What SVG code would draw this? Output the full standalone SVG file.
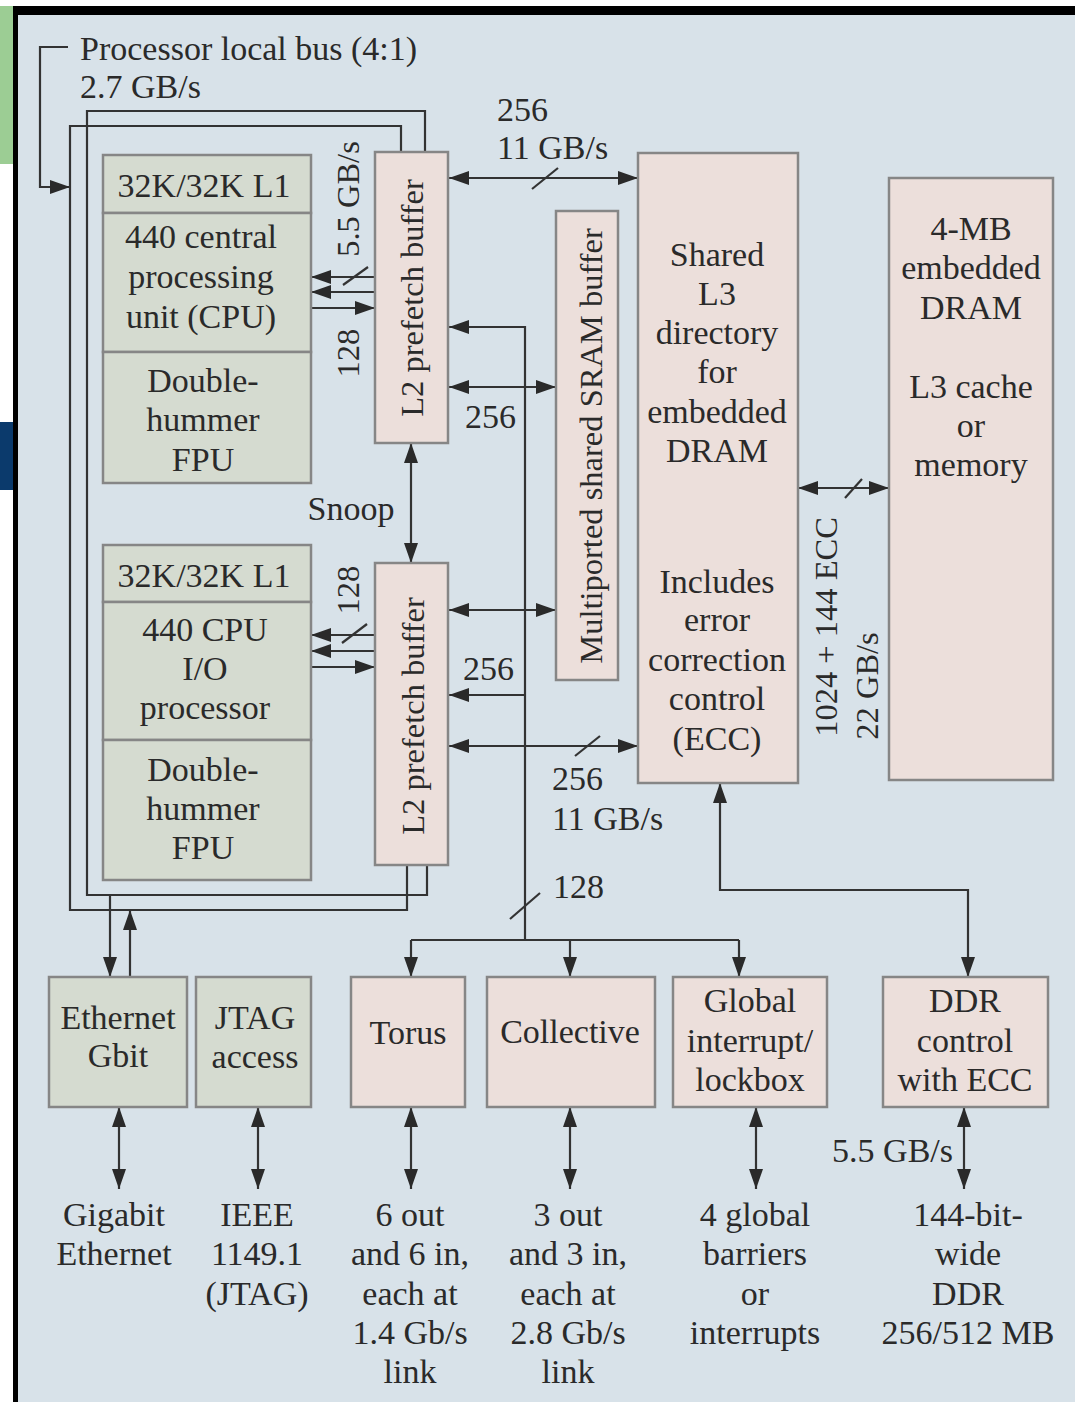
<svg xmlns="http://www.w3.org/2000/svg" width="1075" height="1402" viewBox="0 0 1075 1402">
  <defs>
    <style>
      .pk { fill: #ecdfdb; stroke: #868686; stroke-width: 2.5; }
      .gn { fill: #d5dbd0; stroke: #868686; stroke-width: 2.5; }
      .ln { fill: none; stroke: #333; stroke-width: 2.2; }
      .ar { marker-end: url(#ah); }
      .ar2 { marker-start: url(#ah); marker-end: url(#ah); }
      text { font-family: "Liberation Serif", "Times New Roman", serif; font-size: 34px; fill: #2a2a2a; text-anchor: middle; }
      .vt { font-size: 32.5px; }
      .st { text-anchor: start; }
      .en { text-anchor: end; }
    </style>
    <marker id="ah" viewBox="0 0 20 14" markerUnits="userSpaceOnUse" markerWidth="20" markerHeight="14" refX="20" refY="7" orient="auto-start-reverse">
      <path d="M0,0 L20,7 L0,14 z" fill="#2a2a2a"/>
    </marker>
  </defs>

  <!-- page frame -->
  <rect x="0" y="0" width="1075" height="1402" fill="#ffffff"/>
  <rect x="0" y="6" width="13" height="158" fill="#9ccd94"/>
  <rect x="0" y="422" width="13" height="68" fill="#0b3a6c"/>
  <rect x="18" y="15" width="1057" height="1387" fill="#d8e2e9"/>
  <rect x="13" y="6" width="1062" height="9" fill="#000"/>
  <rect x="13" y="6" width="5" height="1396" fill="#000"/>

  <!-- connectors -->
  <g id="connectors">
    <!-- processor local bus -->
    <path class="ln ar" d="M68,47 H40 V187 H70"/>
    <path class="ln" d="M401,152 V126 H70 V910 H407 V864"/>
    <path class="ln" d="M425,152 V111 H87 V895 H427 V864"/>
    <path class="ln ar" d="M110,895 V977"/>
    <path class="ln ar" d="M130,977 V910"/>

    <!-- CPU / L2 (upper) -->
    <path class="ln ar" d="M375,277 H311"/>
    <path class="ln ar" d="M375,292 H311"/>
    <path class="ln ar" d="M311,308 H375"/>
    <path class="ln" d="M343,285 L368,267"/>

    <!-- CPU / L2 (lower) -->
    <path class="ln ar" d="M375,635 H311"/>
    <path class="ln ar" d="M375,651 H311"/>
    <path class="ln ar" d="M311,667 H375"/>
    <path class="ln" d="M342,643 L367,624"/>

    <!-- snoop -->
    <path class="ln ar2" d="M411,443 V563"/>

    <!-- L2 to L3 -->
    <path class="ln ar2" d="M449,178 H638"/>
    <path class="ln" d="M532,189 L558,168"/>
    <path class="ln ar2" d="M449,746 H638"/>
    <path class="ln" d="M575,756 L600,736"/>

    <!-- L2 to SRAM -->
    <path class="ln ar2" d="M449,387 H556"/>
    <path class="ln ar2" d="M449,610 H556"/>

    <!-- 128-bit device bus -->
    <path class="ln ar" d="M525,940 V327 H449"/>
    <path class="ln ar" d="M525,695 H449"/>
    <path class="ln" d="M510,919 L540,893"/>
    <path class="ln" d="M411,940 H739"/>
    <path class="ln ar" d="M411,940 V977"/>
    <path class="ln ar" d="M570,940 V977"/>
    <path class="ln ar" d="M739,940 V977"/>

    <!-- L3 to DDR controller -->
    <path class="ln ar2" d="M720,783 V890 H968 V977"/>

    <!-- L3 to embedded DRAM -->
    <path class="ln ar2" d="M798,488 H889"/>
    <path class="ln" d="M845,498 L862,479"/>

    <!-- external interfaces -->
    <path class="ln ar2" d="M119,1107 V1189"/>
    <path class="ln ar2" d="M258,1107 V1189"/>
    <path class="ln ar2" d="M411,1107 V1189"/>
    <path class="ln ar2" d="M570,1107 V1189"/>
    <path class="ln ar2" d="M756,1107 V1189"/>
    <path class="ln ar2" d="M964,1107 V1189"/>
  </g>

  <!-- connector labels -->
  <g id="labels">
    <text class="st" x="80" y="60">Processor local bus (4:1)</text>
    <text class="st" x="80" y="98">2.7 GB/s</text>
    <text class="vt" transform="translate(359,199) rotate(-90)">5.5 GB/s</text>
    <text class="vt" transform="translate(359,353) rotate(-90)">128</text>
    <text class="vt" transform="translate(359,590) rotate(-90)">128</text>
    <text class="st" x="497" y="121">256</text>
    <text class="st" x="497" y="159">11 GB/s</text>
    <text class="st" x="465" y="428">256</text>
    <text x="351" y="520">Snoop</text>
    <text class="st" x="463" y="680">256</text>
    <text class="st" x="552" y="790">256</text>
    <text class="st" x="552" y="830">11 GB/s</text>
    <text class="st" x="553" y="898">128</text>
    <text class="vt" transform="translate(837,627) rotate(-90)">1024 + 144 ECC</text>
    <text class="vt" transform="translate(878,686) rotate(-90)">22 GB/s</text>
    <text class="en" x="953" y="1162">5.5 GB/s</text>
  </g>

  <!-- processor 0 -->
  <g id="cpu0">
    <rect class="gn" x="103" y="155" width="208" height="58"/>
    <rect class="gn" x="103" y="213" width="208" height="139"/>
    <rect class="gn" x="103" y="352" width="208" height="131"/>
    <text x="204" y="197">32K/32K L1</text>
    <text x="201" y="248">440 central</text>
    <text x="201" y="288">processing</text>
    <text x="201" y="328">unit (CPU)</text>
    <text x="203" y="392">Double-</text>
    <text x="203" y="431">hummer</text>
    <text x="203" y="471">FPU</text>
  </g>

  <!-- processor 1 -->
  <g id="cpu1">
    <rect class="gn" x="103" y="545" width="208" height="57"/>
    <rect class="gn" x="103" y="602" width="208" height="138"/>
    <rect class="gn" x="103" y="740" width="208" height="140"/>
    <text x="204" y="587">32K/32K L1</text>
    <text x="205" y="641">440 CPU</text>
    <text x="205" y="680">I/O</text>
    <text x="205" y="719">processor</text>
    <text x="203" y="781">Double-</text>
    <text x="203" y="820">hummer</text>
    <text x="203" y="859">FPU</text>
  </g>

  <!-- L2 prefetch buffers -->
  <g id="l2a">
    <rect class="pk" x="375" y="152" width="73" height="291"/>
    <text class="vt" transform="translate(423,298) rotate(-90)">L2 prefetch buffer</text>
  </g>
  <g id="l2b">
    <rect class="pk" x="375" y="563" width="73" height="302"/>
    <text class="vt" transform="translate(424,716) rotate(-90)">L2 prefetch buffer</text>
  </g>

  <!-- SRAM buffer -->
  <g id="sram">
    <rect class="pk" x="556" y="211" width="62" height="469"/>
    <text class="vt" transform="translate(602,446) rotate(-90)">Multiported shared SRAM buffer</text>
  </g>

  <!-- L3 directory -->
  <g id="l3dir">
    <rect class="pk" x="638" y="153" width="160" height="630"/>
    <text x="717" y="266">Shared</text>
    <text x="717" y="305">L3</text>
    <text x="717" y="344">directory</text>
    <text x="717" y="383">for</text>
    <text x="717" y="423">embedded</text>
    <text x="717" y="462">DRAM</text>
    <text x="717" y="593">Includes</text>
    <text x="717" y="631">error</text>
    <text x="717" y="671">correction</text>
    <text x="717" y="710">control</text>
    <text x="717" y="750">(ECC)</text>
  </g>

  <!-- embedded DRAM -->
  <g id="edram">
    <rect class="pk" x="889" y="178" width="164" height="602"/>
    <text x="971" y="240">4-MB</text>
    <text x="971" y="279">embedded</text>
    <text x="971" y="319">DRAM</text>
    <text x="971" y="398">L3 cache</text>
    <text x="971" y="437">or</text>
    <text x="971" y="476">memory</text>
  </g>

  <!-- I/O blocks -->
  <g id="ethernet">
    <rect class="gn" x="49" y="977" width="138" height="130"/>
    <text x="118" y="1029">Ethernet</text>
    <text x="118" y="1067">Gbit</text>
  </g>
  <g id="jtag">
    <rect class="gn" x="196" y="977" width="115" height="130"/>
    <text x="255" y="1029">JTAG</text>
    <text x="255" y="1068">access</text>
  </g>
  <g id="torus">
    <rect class="pk" x="351" y="977" width="114" height="130"/>
    <text x="408" y="1044">Torus</text>
  </g>
  <g id="collective">
    <rect class="pk" x="487" y="977" width="168" height="130"/>
    <text x="570" y="1043">Collective</text>
  </g>
  <g id="global">
    <rect class="pk" x="673" y="977" width="154" height="130"/>
    <text x="750" y="1012">Global</text>
    <text x="750" y="1052">interrupt/</text>
    <text x="750" y="1091">lockbox</text>
  </g>
  <g id="ddr">
    <rect class="pk" x="883" y="977" width="165" height="130"/>
    <text x="965" y="1012">DDR</text>
    <text x="965" y="1052">control</text>
    <text x="965" y="1091">with ECC</text>
  </g>

  <!-- external interface notes -->
  <g id="ext">
    <text x="114" y="1226">Gigabit</text>
    <text x="114" y="1265">Ethernet</text>
    <text x="257" y="1226">IEEE</text>
    <text x="257" y="1265">1149.1</text>
    <text x="257" y="1305">(JTAG)</text>
    <text x="410" y="1226">6 out</text>
    <text x="410" y="1265">and 6 in,</text>
    <text x="410" y="1305">each at</text>
    <text x="410" y="1344">1.4 Gb/s</text>
    <text x="410" y="1383">link</text>
    <text x="568" y="1226">3 out</text>
    <text x="568" y="1265">and 3 in,</text>
    <text x="568" y="1305">each at</text>
    <text x="568" y="1344">2.8 Gb/s</text>
    <text x="568" y="1383">link</text>
    <text x="755" y="1226">4 global</text>
    <text x="755" y="1265">barriers</text>
    <text x="755" y="1305">or</text>
    <text x="755" y="1344">interrupts</text>
    <text x="968" y="1226">144-bit-</text>
    <text x="968" y="1265">wide</text>
    <text x="968" y="1305">DDR</text>
    <text x="968" y="1344">256/512 MB</text>
  </g>
</svg>
